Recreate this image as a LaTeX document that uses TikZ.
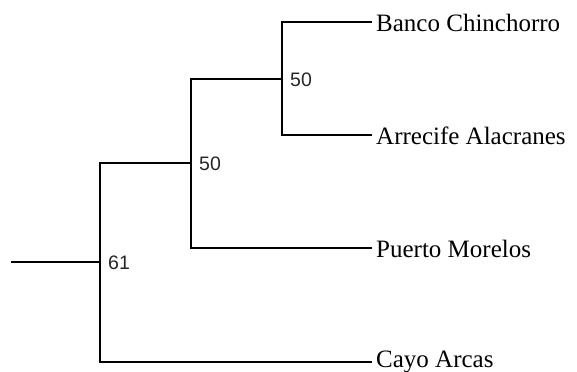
\documentclass[tikz,border=0pt]{standalone}
\usepackage{fontspec}
\setmainfont{Liberation Serif}
\newfontfamily\labfont{Liberation Sans}
\begin{document}
\begin{tikzpicture}[x=1bp,y=-1bp,
  branch/.style={draw=black,line width=1.6bp},
  leaf/.style={anchor=west,inner xsep=4bp,inner ysep=0bp,text height=18bp,text depth=0bp,font=\fontsize{25bp}{28bp}\selectfont},
  support/.style={anchor=base west,inner sep=0bp,font=\labfont\fontsize{19.5bp}{21bp}\selectfont,text=black!85}]
\useasboundingbox (0,0) rectangle (577,371);
\coordinate (r0) at (11,262);
\coordinate (n61) at (100,262);
\coordinate (n50a) at (191,163);
\coordinate (n50b) at (282,79);
\node[leaf] (banco) at (372,22) {Banco Chinchorro};
\node[leaf] (arrecife) at (372,135) {Arrecife Alacranes};
\node[leaf] (puerto) at (372,248) {Puerto Morelos};
\node[leaf,text height=11bp] (cayo) at (372,362) {Cayo Arcas};
\draw[branch] (r0) -- (n61);
\draw[branch] (n50a) -| (n61) |- (cayo.west);
\draw[branch] (n50b) -| (n50a) |- (puerto.west);
\draw[branch] (banco.west) -| (n50b) |- (arrecife.west);
\node[support] (l61) at ([xshift=8bp,yshift=-7bp]n61) {61};
\node[support] (l50a) at ([xshift=8bp,yshift=-7bp]n50a) {50};
\node[support] (l50b) at ([xshift=8bp,yshift=-7bp]n50b) {50};
\end{tikzpicture}
\end{document}
